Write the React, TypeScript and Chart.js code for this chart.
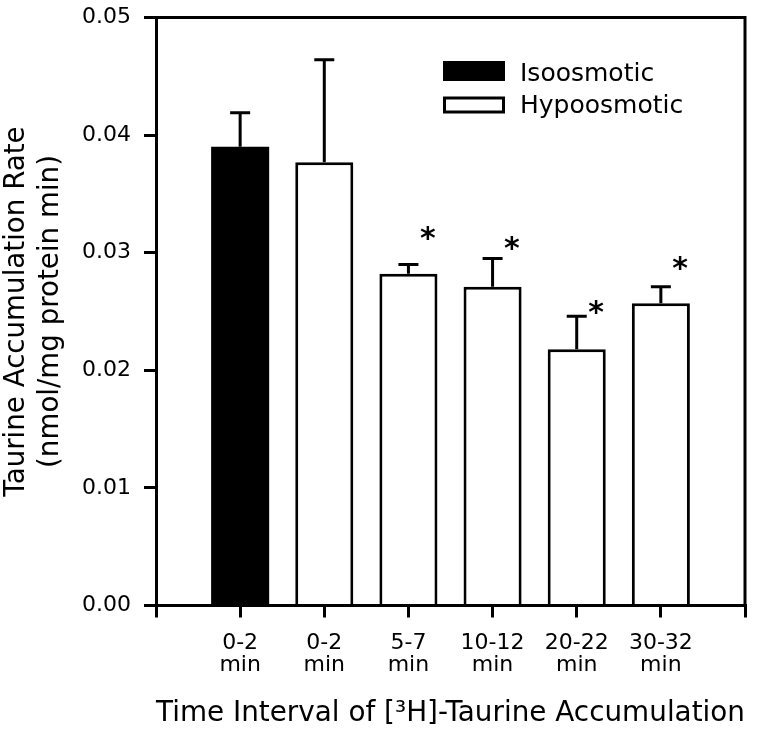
import { useEffect, useRef } from 'react';
import { Chart, registerables } from 'chart.js';

Chart.register(...registerables);

// ---- data ----
const categories = ['0-2', '0-2', '5-7', '10-12', '20-22', '30-32'];
const unitLine = 'min';
const isoosmotic: (number | null)[] = [0.039, null, null, null, null, null];
const hypoosmotic: (number | null)[] = [null, 0.0377, 0.0282, 0.0271, 0.0218, 0.0257];
const upperError = [0.0029, 0.0087, 0.0008, 0.0024, 0.0028, 0.0014];
const significanceLevel: (number | null)[] = [null, null, 0.032, 0.0311, 0.0257, 0.0294];
const yMin = 0;
const yMax = 0.05;
const yStep = 0.01;

const FONT = 'DejaVu Sans';

const labels: (string | string[])[] = ['', ...categories.map((c) => [c, unitLine]), ''];
const pad = (arr: (number | null)[]) => [null, ...arr, null];

const decorations = {
  id: 'decorations',
  afterDatasetsDraw(chart: any) {
    const { ctx, chartArea, scales } = chart;
    const xs = scales.x;
    const ys = scales.y;
    ctx.save();
    ctx.strokeStyle = '#000';
    ctx.fillStyle = '#000';
    ctx.lineWidth = 3;
    ctx.lineCap = 'butt';

    // error bars (upper only)
    categories.forEach((_, i) => {
      const v = isoosmotic[i] ?? hypoosmotic[i];
      if (v == null) return;
      const px = xs.getPixelForValue(i + 1);
      const y0 = ys.getPixelForValue(v);
      const y1 = ys.getPixelForValue(v + upperError[i]);
      ctx.beginPath();
      ctx.moveTo(px, y0);
      ctx.lineTo(px, y1);
      ctx.moveTo(px - 10, y1);
      ctx.lineTo(px + 10, y1);
      ctx.stroke();
    });

    // significance asterisks
    const spacing = xs.getPixelForValue(2) - xs.getPixelForValue(1);
    const fs = 30;
    ctx.font = `bold ${fs}px "${FONT}"`;
    ctx.textAlign = 'center';
    ctx.textBaseline = 'alphabetic';
    significanceLevel.forEach((lv, i) => {
      if (lv == null) return;
      const px = xs.getPixelForValue(i + 1) + spacing * 0.23;
      const py = ys.getPixelForValue(lv);
      ctx.fillText('*', px, py + fs * 0.62);
    });

    // frame: top and right
    ctx.beginPath();
    ctx.moveTo(chartArea.left, chartArea.top);
    ctx.lineTo(chartArea.right, chartArea.top);
    ctx.lineTo(chartArea.right, chartArea.bottom);
    ctx.stroke();

    // legend
    const ds = chart.data.datasets;
    const boxL = 443;
    const boxW = 62;
    const rows = [
      { top: 61, h: 20, base: 80.7 },
      { top: 96.5, h: 17, base: 113.3 },
    ];
    ctx.font = `25px "${FONT}"`;
    ctx.textAlign = 'left';
    ds.forEach((d: any, k: number) => {
      const r = rows[k];
      ctx.fillStyle = d.backgroundColor;
      ctx.fillRect(boxL, r.top, boxW, r.h);
      ctx.strokeStyle = '#000';
      ctx.lineWidth = 3;
      ctx.strokeRect(boxL + 1.5, r.top + 1.5, boxW - 3, r.h - 3);
      ctx.fillStyle = '#000';
      ctx.fillText(d.label, 520, r.base);
    });
    ctx.restore();
  },
};

export default function App() {
  const ref = useRef<HTMLCanvasElement | null>(null);
  useEffect(() => {
    if (!ref.current) return;
    const chart = new Chart(ref.current, {
      type: 'bar',
      data: {
        labels,
        datasets: [
          {
            label: 'Isoosmotic',
            data: pad(isoosmotic),
            backgroundColor: '#000',
            borderColor: '#000',
            borderWidth: 0,
            grouped: false,
            barPercentage: 0.69,
            categoryPercentage: 1,
          } as any,
          {
            label: 'Hypoosmotic',
            data: pad(hypoosmotic),
            backgroundColor: '#fff',
            borderColor: '#000',
            borderWidth: 3,
            grouped: false,
            barPercentage: 0.69,
            categoryPercentage: 1,
          } as any,
        ],
      },
      options: {
        animation: false,
        responsive: false,
        layout: { padding: { top: 17.5, right: 13, left: 0, bottom: 0 } },
        plugins: { legend: { display: false }, tooltip: { enabled: false } },
        scales: {
          x: {
            type: 'category',
            offset: false,
            grid: {
              offset: false,
              drawOnChartArea: false,
              drawTicks: true,
              tickLength: 12,
              lineWidth: 3,
              color: '#000',
            },
            border: { display: true, width: 3, color: '#000' },
            ticks: {
              autoSkip: false,
              maxRotation: 0,
              minRotation: 0,
              padding: 15,
              color: '#000',
              font: { family: FONT, size: 22, lineHeight: 1.0 },
            },
            title: {
              display: true,
              text: 'Time Interval of [³H]-Taurine Accumulation',
              color: '#000',
              font: { family: FONT, size: 28.3, lineHeight: 1.0 },
              padding: { top: 0, bottom: 7 },
            },
            afterFit: (s: any) => {
              s.height = 129.5;
              s.paddingLeft = 0;
              s.paddingRight = 0;
            },
          },
          y: {
            min: yMin,
            max: yMax,
            grid: {
              drawOnChartArea: false,
              drawTicks: true,
              tickLength: 12,
              lineWidth: 3,
              color: '#000',
            },
            border: { display: true, width: 3, color: '#000' },
            ticks: {
              stepSize: yStep,
              padding: 13,
              color: '#000',
              font: { family: FONT, size: 22 },
              callback: (v: any) => Number(v).toFixed(2),
            },
            title: {
              display: true,
              text: ['Taurine Accumulation Rate', '(nmol/mg protein min)'],
              color: '#000',
              font: { family: FONT, size: 27.7, lineHeight: 1.23 },
              padding: { top: 0, bottom: 0 },
            },
            afterFit: (s: any) => {
              s.width = 156;
              s.paddingTop = 0;
              s.paddingBottom = 0;
            },
          },
        },
      },
      plugins: [decorations],
    });
    return () => chart.destroy();
  }, []);
  return (
    <canvas
      ref={ref}
      width={758}
      height={735}
      style={{ display: 'block', position: 'absolute', left: 0, top: 0, width: 758, height: 735 }}
    />
  );
}
